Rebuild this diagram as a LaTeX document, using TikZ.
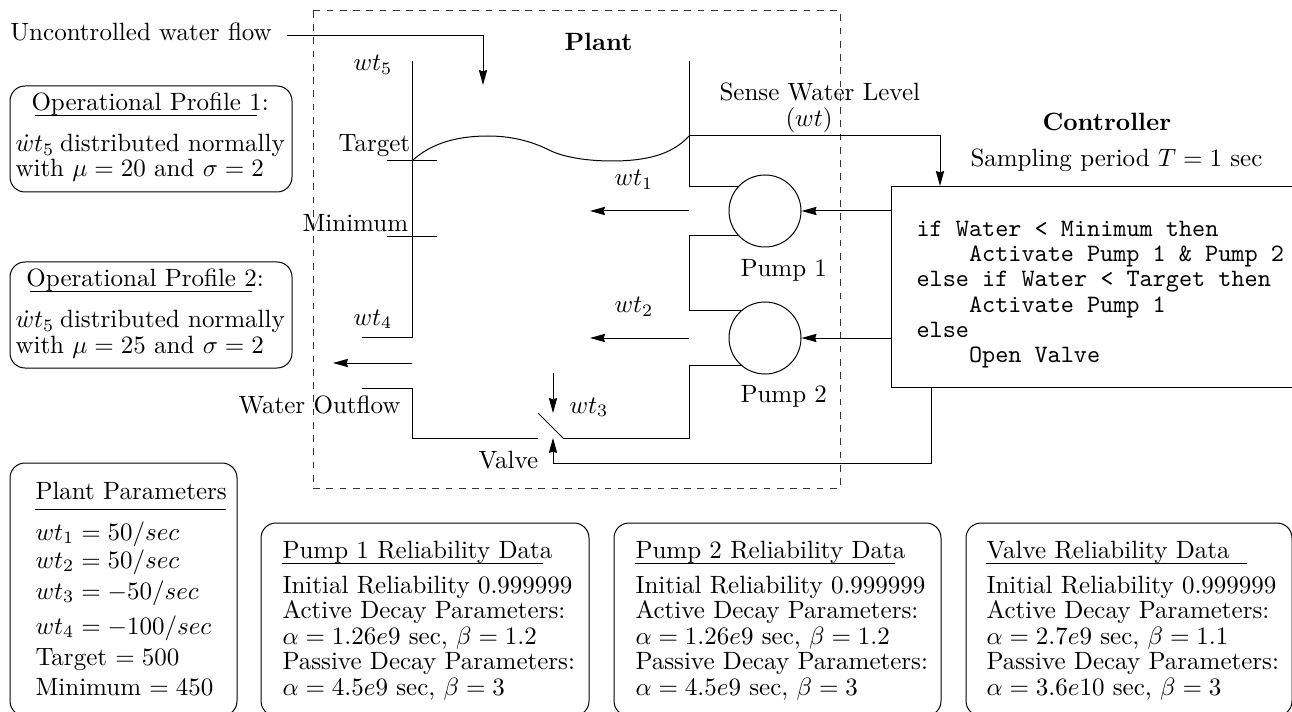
\documentclass[tikz,border=0pt]{standalone}
\usetikzlibrary{arrows.meta}
\tikzset{
  flow/.style={line width=0.4pt,-{Stealth[length=6pt,width=3.3pt,inset=0.5pt]}},
  pipe/.style={line width=0.4pt},
  panel/.style={line width=0.4pt,rounded corners=6pt},
  lbl/.style={anchor=base west,inner sep=0pt,font=\fontsize{10}{10.2}\selectfont,align=left},
  pumpnode/.style={draw,circle,line width=0.4pt,minimum size=28.8pt,inner sep=0pt},
}
\begin{document}
\begin{tikzpicture}[x=0.4pt,y=-0.4pt]
  \useasboundingbox (0,0) rectangle (1292,712);

  % plant border
  \draw[line width=0.4pt,black!80,dash pattern=on 2.7pt off 2.6pt] (313,11) rectangle (840,488);

  % pumps and controller
  \node[pumpnode] at (765,211) (pump1) {};
  \node[pumpnode] at (765,338) (pump2) {};
  \node[draw,line width=0.5pt,anchor=north west,minimum width=162pt,minimum height=80.4pt] at (891,186) (ctrl) {};

  % points of the tank
  \coordinate (ltop) at (412,61);
  \coordinate (rtop) at (689,61);
  \coordinate (lout) at (362,337);
  \coordinate (lin) at (362,388);
  \coordinate (valvel) at (538,438);
  \coordinate (valver) at (563,438);
  \coordinate (valvetop) at (538,413);
  \coordinate (targetl) at (387,161);
  \coordinate (targetr) at (437,161);
  \coordinate (minl) at (387,237);
  \coordinate (minr) at (437,237);

  \draw[pipe] (ltop) |- (lout);
  \draw[pipe] (lin) -| (ltop |- valvel) -- (valvel);
  \draw[pipe] (valvetop) -- (valver);
  \draw[pipe] (rtop) |- (pump1.138);
  \draw[pipe] (pump1.222) -| (rtop |- pump2.132) -- (pump2.132);
  \draw[pipe] (pump2.228) -| (rtop |- valver) -- (valver);
  \draw[pipe] (targetl) -- (targetr);
  \draw[pipe] (minl) -- (minr);

  % water surface
  \draw[line width=0.4pt] (412,161) .. controls (432,142) and (460,136) .. (488,136)
    .. controls (515,136) and (535,143) .. (549,150)
    .. controls (565,158) and (590,161) .. (612,161)
    .. controls (645,161) and (672,155) .. (689,136);

  % flows
  \coordinate (flowstart) at (287,36);
  \coordinate (flowtip) at (483,85);
  \coordinate (wt1tip) at (590,211);
  \coordinate (wt2tip) at (590,338);
  \coordinate (outtip) at (333,363);
  \coordinate (wt3start) at (553,373);
  \coordinate (wt3tip) at (553,413);
  \coordinate (sense) at (689,136);
  \coordinate (ctrlin) at (940,186);
  \coordinate (ctrlout) at (931,387);
  \coordinate (valvelow) at (553,463);
  \coordinate (valvein) at (553,438);

  \draw[flow] (flowstart) -| (flowtip);
  \draw[flow] (rtop |- wt1tip) -- (wt1tip);
  \draw[flow] (rtop |- wt2tip) -- (wt2tip);
  \draw[flow] (ltop |- outtip) -- (outtip);
  \draw[flow] (wt3start) -- (wt3tip);
  \draw[flow] (sense) -| (ctrlin);
  \draw[flow] (ctrl.west |- pump1) -- (pump1.east);
  \draw[flow] (ctrl.west |- pump2) -- (pump2.east);
  \draw[flow] (ctrlout) |- (valvelow) -- (valvein);

  % labels
  \node[lbl] at (10,41) (uncontrolled) {Uncontrolled water flow};
  \node[lbl] at (564,51) (plant) {\textbf{Plant}};
  \node[lbl] at (353,71) (wt5) {$wt_5$};
  \node[lbl] at (338,152) (target) {Target};
  \node[lbl] at (302,232) (minimum) {Minimum};
  \node[lbl] at (353,325) (wt4) {$wt_4$};
  \node[lbl] at (238,413) (outflow) {Water Outflow};
  \node[lbl] at (569,413) (wt3) {$wt_3$};
  \node[lbl] at (478,468) (valve) {Valve};
  \node[lbl] at (614,186) (wt1) {$wt_1$};
  \node[lbl] at (614,313) (wt2) {$wt_2$};
  \node[lbl] at (719,101) (sensewater) {Sense Water Level};
  \node[lbl] at (785,127) (sensewt) {($wt$)};
  \node[lbl] at (1042,131) (controller) {\textbf{Controller}};
  \node[lbl] at (970,167) (sampling) {Sampling period $T=1$ sec};
  \node[lbl] at (740,277) (pump1lbl) {Pump 1};
  \node[lbl] at (740,402) (pump2lbl) {Pump 2};
  \node[lbl,font=\fontsize{10}{10}\selectfont\ttfamily] at (916,362) (code) {if Water < Minimum then\\
    \ \ \ \ Activate Pump 1 \& Pump 2\\
    else if Water < Target then\\
    \ \ \ \ Activate Pump 1\\
    else\\
    \ \ \ \ Open Valve};

  % operational profiles
  \draw[panel] (10,86) rectangle (292,192);
  \node[lbl] at (31,111) (prof1title) {Operational Profile 1:};
  \draw[pipe] (35,116) -- (257,116);
  \node[lbl] at (15,177) (prof1text) {$\dot{w}t_5$\hspace{-1pt} distributed normally\\with $\mu=20$ and $\sigma=2$};
  \draw[panel] (10,262) rectangle (292,368);
  \node[lbl] at (26,287) (prof2title) {Operational Profile 2:};
  \draw[pipe] (30,292) -- (252,292);
  \node[lbl] at (15,353) (prof2text) {$\dot{w}t_5$\hspace{-1pt} distributed normally\\with $\mu=25$ and $\sigma=2$};

  % parameters
  \draw[panel] (10,463) rectangle (237,716);
  \node[lbl] at (35,499) (plantpar) {Plant Parameters};
  \draw[pipe] (35,509) -- (226,509);
  \node[lbl] at (35,695) (plantvals) {$wt_1=50/sec$\\[1pt]
    $wt_2=50/sec$\\[2.2pt]
    $wt_3=-50/sec$\\[3.8pt]
    $wt_4=-100/sec$\\[2.2pt]
    Target $=500$\\[1.8pt]
    Minimum $=450$};

  % reliability data
  \draw[panel] (261,523) rectangle (589,716);
  \node[lbl] at (282,558) (pump1rel) {Pump 1 Reliability Data};
  \draw[pipe] (282,563) -- (543,563);
  \node[lbl] at (282,695) (pump1data) {Initial Reliability 0.999999\\
    Active Decay Parameters:\\
    $\alpha=1.26e9$ sec, $\beta=1.2$\\
    Passive Decay Parameters:\\
    $\alpha=4.5e9$ sec, $\beta=3$};
  \draw[panel] (614,523) rectangle (941,716);
  \node[lbl] at (635,558) (pump2rel) {Pump 2 Reliability Data};
  \draw[pipe] (635,563) -- (895,563);
  \node[lbl] at (635,695) (pump2data) {Initial Reliability 0.999999\\
    Active Decay Parameters:\\
    $\alpha=1.26e9$ sec, $\beta=1.2$\\
    Passive Decay Parameters:\\
    $\alpha=4.5e9$ sec, $\beta=3$};
  \draw[panel] (966,523) rectangle (1292,716);
  \node[lbl] at (986,558) (valverel) {Valve Reliability Data};
  \draw[pipe] (986,563) -- (1247,563);
  \node[lbl] at (986,695) (valvedata) {Initial Reliability 0.999999\\
    Active Decay Parameters:\\
    $\alpha=2.7e9$ sec, $\beta=1.1$\\
    Passive Decay Parameters:\\
    $\alpha=3.6e10$ sec, $\beta=3$};
\end{tikzpicture}
\end{document}
